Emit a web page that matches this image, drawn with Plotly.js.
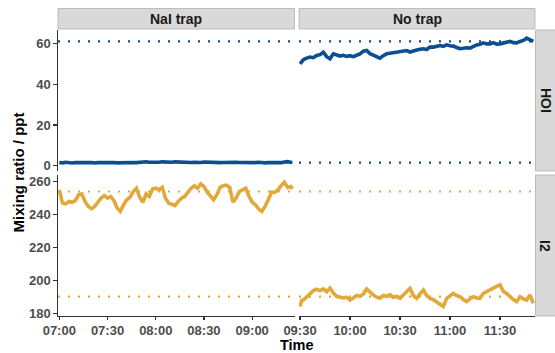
<!DOCTYPE html>
<html>
<head>
<meta charset="utf-8">
<script src="https://cdn.plot.ly/plotly-3.0.1.min.js"></script>
<style>html,body{margin:0;padding:0;background:#fff;}#chart{width:555px;height:353px;}</style>
</head>
<body>
<div id="chart"></div>
<script>
// ---- Data ----
var panelsCol = ["NaI trap", "No trap"];
var panelsRow = ["HOI", "I2"];

var timeNaI = ["07:00","07:02","07:04","07:06","07:08","07:10","07:12","07:14","07:16","07:18","07:20","07:22","07:24","07:26","07:28","07:30","07:32","07:34","07:36","07:38","07:40","07:42","07:44","07:46","07:48","07:50","07:52","07:54","07:56","07:58","08:00","08:02","08:04","08:06","08:08","08:10","08:12","08:14","08:16","08:18","08:20","08:22","08:24","08:26","08:28","08:30","08:32","08:34","08:36","08:38","08:40","08:42","08:44","08:46","08:48","08:50","08:52","08:54","08:56","08:58","09:00","09:02","09:04","09:06","09:08","09:10","09:12","09:14","09:16","09:18","09:20","09:22","09:24","09:25"];

var hoiNaI = [1.6,1.4,1.7,1.5,1.3,1.6,1.5,1.4,1.7,1.5,1.6,1.3,1.5,1.6,1.4,1.7,1.5,1.6,1.4,1.5,1.7,1.6,1.8,1.6,1.5,1.7,1.6,1.9,1.7,1.6,1.8,1.7,1.9,1.8,1.6,1.7,1.9,1.8,1.6,1.7,1.8,1.6,1.7,1.5,1.6,1.8,1.7,1.5,1.6,1.7,1.5,1.6,1.7,1.6,1.5,1.7,1.6,1.5,1.6,1.4,1.6,1.5,1.7,1.5,1.4,1.6,1.5,1.7,1.6,1.5,1.8,2.0,1.7,1.6];

var i2NaI = [255,247,246.5,248,247.5,248.5,252,252.5,248,245,243.5,245,247.5,250,251.5,250,251,248.5,244,242,246,249,250.5,254,256,250.5,247.5,252.5,251,255.5,256,255,256.5,250,247,246,245.5,248,250,251,254,256,257.5,256,258.6,257,253.6,251,249,252,256.5,257.5,257.8,256.5,247.5,250,254,255,256,251,247.5,246,243.5,242,245,249,253.5,253.6,255,257.6,259.6,256.5,257,255.6];

var timeNo = ["09:30","09:31","09:32","09:34","09:36","09:38","09:40","09:42","09:44","09:46","09:48","09:50","09:52","09:54","09:56","09:58","10:00","10:02","10:04","10:06","10:08","10:10","10:12","10:14","10:16","10:18","10:20","10:22","10:24","10:26","10:28","10:30","10:32","10:34","10:36","10:38","10:40","10:42","10:44","10:46","10:48","10:50","10:52","10:54","10:56","10:58","11:00","11:02","11:04","11:06","11:08","11:10","11:12","11:14","11:16","11:18","11:20","11:22","11:24","11:26","11:28","11:30","11:32","11:34","11:36","11:38","11:40","11:42","11:44","11:46","11:48","11:50"];

var hoiNo = [50,51.2,52,52.8,53.3,53,54.1,54.5,55.7,53.5,52.5,54.9,54.3,53.8,54.2,53.6,54,53.5,54.2,54.9,56.2,56.6,55,54.4,53.8,52.8,54,54.9,55.2,55.4,55.6,56,56.1,56.5,55.8,56.1,56.8,57.2,57.4,57,58.2,58.2,58.5,59,58.6,59.3,58.9,58.7,58,57.4,57.6,57.9,57.7,58.5,59.3,59.6,60.3,59.8,59.8,60.4,59.7,59.8,60.3,60.6,61,60.4,60.3,61,61.5,62.6,61.8,61];

var i2No = [184.3,188,188.3,190.5,192,194,194.8,194,195,193.3,195.5,192.5,190.5,190,189.5,190,188.3,189.5,191,190.5,192,195,193,191.3,190,189.3,191,190.5,191.5,190,190.5,189.3,191.3,193,195.4,191,189.3,192,194.3,191,189.3,188.5,187.3,185.5,184.3,189.3,191,192.3,191,190.3,188.5,187.3,189,190.3,189.5,189.3,192.3,193.5,194.3,195.4,196.5,197.4,193.5,192.3,190.3,188.5,187.3,190.3,189,188.3,191.3,186.3];

// dotted reference levels per row
var hoiRefs = {"NaI trap": [61], "No trap": [61, 1.5]};
var i2Refs = {"NaI trap": [254, 190.3], "No trap": [254, 190.3]};

var tickTimesNaI = ["07:00","07:30","08:00","08:30","09:00"];
var tickTimesNo = ["09:30","10:00","10:30","11:00","11:30"];
var yTicksHOI = [0, 20, 40, 60];
var yTicksI2 = [180, 200, 220, 240, 260];

// ---- Helpers ----
var day = "2024-01-01 ";
function d(t) { return day + t; }
var W = 555, H = 353;
function px(x) { return x / W; }
function py(y) { return 1 - y / H; }

var BLUE = "#0b4f91", GOLD = "#e2a93a";

var col1 = [px(58), px(294.5)], col2 = [px(299), px(535)];
var row1 = [py(171), py(30)], row2 = [py(316), py(175)];

var LW = 3.6;
var traces = [
  {x: timeNaI.map(d), y: hoiNaI, xaxis: "x", yaxis: "y", type: "scatter", mode: "lines", line: {color: BLUE, width: LW}, hoverinfo: "skip"},
  {x: timeNo.map(d), y: hoiNo, xaxis: "x2", yaxis: "y2", type: "scatter", mode: "lines", line: {color: BLUE, width: LW}, hoverinfo: "skip"},
  {x: timeNaI.map(d), y: i2NaI, xaxis: "x3", yaxis: "y3", type: "scatter", mode: "lines", line: {color: GOLD, width: LW}, hoverinfo: "skip"},
  {x: timeNo.map(d), y: i2No, xaxis: "x4", yaxis: "y4", type: "scatter", mode: "lines", line: {color: GOLD, width: LW}, hoverinfo: "skip"}
];

var shapes = [];
function hline(xr, yr, v, c) {
  shapes.push({type: "line", xref: xr + " domain", yref: yr, x0: 0, x1: 1, y0: v, y1: v,
    line: {color: c, width: 2.2, dash: "2px,8px"}, layer: "below"});
}
hoiRefs["NaI trap"].forEach(function(v){ hline("x", "y", v, BLUE); });
hoiRefs["No trap"].forEach(function(v){ hline("x2", "y2", v, BLUE); });
i2Refs["NaI trap"].forEach(function(v){ hline("x3", "y3", v, GOLD); });
i2Refs["No trap"].forEach(function(v){ hline("x4", "y4", v, GOLD); });

var STRIP = "#d9d9d9", STRIPLINE = "#b0b0b0";
function rect(x0, x1, y0, y1) {
  shapes.push({type: "rect", xref: "paper", yref: "paper", x0: px(x0), x1: px(x1), y0: py(y1), y1: py(y0),
    fillcolor: STRIP, line: {color: STRIPLINE, width: 0.8}, layer: "above"});
}
rect(58, 294.5, 8.5, 29);
rect(299, 535, 8.5, 29);
rect(535.5, 556, 30, 171);
rect(535.5, 556, 175, 316);

var stripFont = {family: "Liberation Sans, Arial, sans-serif", size: 14, color: "#1a1a1a"};
var titleFont = {family: "Liberation Sans, Arial, sans-serif", size: 15, color: "#000"};
var annotations = [
  {text: "<b>" + panelsCol[0] + "</b>", xref: "paper", yref: "paper", x: px(176.25), y: py(18.8), showarrow: false, font: stripFont, xanchor: "center", yanchor: "middle"},
  {text: "<b>" + panelsCol[1] + "</b>", xref: "paper", yref: "paper", x: px(417), y: py(18.8), showarrow: false, font: stripFont, xanchor: "center", yanchor: "middle"},
  {text: "<b>" + panelsRow[0] + "</b>", xref: "paper", yref: "paper", x: px(545.5), y: py(100.5), showarrow: false, font: stripFont, textangle: 90, xanchor: "center", yanchor: "middle"},
  {text: "<b>" + panelsRow[1] + "</b>", xref: "paper", yref: "paper", x: px(545.5), y: py(245.5), showarrow: false, font: stripFont, textangle: 90, xanchor: "center", yanchor: "middle"},
  {text: "<b>Time</b>", xref: "paper", yref: "paper", x: px(296.5), y: py(344.8), showarrow: false, font: {family: titleFont.family, size: 14.5, color: "#000"}, xanchor: "center", yanchor: "middle", borderpad: 0},
  {text: "<b>Mixing ratio / ppt</b>", xref: "paper", yref: "paper", x: px(17.5), y: py(173), showarrow: false, font: titleFont, textangle: -90, xanchor: "center", yanchor: "middle"}
];

var tickFont = {family: "Liberation Sans, Arial, sans-serif", size: 13, color: "#4d4d4d"};
var AX = "#333333";
function hiddenX(dom, anchor, range) {
  return {domain: dom, anchor: anchor, type: "date", range: range, showline: false, showgrid: false, zeroline: false, showticklabels: false, ticks: "", fixedrange: true};
}
function shownX(dom, anchor, range, tv) {
  return {domain: dom, anchor: anchor, type: "date", range: range, showline: true, linecolor: AX, linewidth: 1.1,
    showgrid: false, zeroline: false, ticks: "outside", ticklen: 3, tickcolor: AX, tickwidth: 1.1,
    ticklabelstandoff: -1,
    tickmode: "array", tickvals: tv.map(d), ticktext: tv.map(function(t){ return "<b>" + t + "</b>"; }),
    tickfont: tickFont, fixedrange: true};
}
function shownY(dom, anchor, range, tv) {
  return {domain: dom, anchor: anchor, range: range, showline: true, linecolor: AX, linewidth: 1.1,
    showgrid: false, zeroline: false, ticks: "outside", ticklen: 3.5, tickcolor: AX, tickwidth: 1.1,
    tickmode: "array", tickvals: tv, ticktext: tv.map(function(t){ return "<b>" + t + "</b>"; }),
    tickfont: tickFont, fixedrange: true};
}
function hiddenY(dom, anchor, range) {
  return {domain: dom, anchor: anchor, range: range, showline: false, showgrid: false, zeroline: false, showticklabels: false, ticks: "", fixedrange: true};
}

var r1x = [d("06:59:12"), d("09:26:18")];
var r2x = [d("09:29:24"), d("11:51:00")];
var rHOI = [-2.6, 66.6];
var rI2 = [178.6, 264];

var layout = {
  width: W, height: H,
  margin: {l: 0, r: 0, t: 0, b: 0, pad: 0},
  paper_bgcolor: "#ffffff", plot_bgcolor: "#ffffff",
  showlegend: false,
  xaxis: hiddenX(col1, "y", r1x),
  xaxis2: hiddenX(col2, "y2", r2x),
  xaxis3: shownX(col1, "y3", r1x, tickTimesNaI),
  xaxis4: shownX(col2, "y4", r2x, tickTimesNo),
  yaxis: shownY(row1, "x", rHOI, yTicksHOI),
  yaxis2: hiddenY(row1, "x2", rHOI),
  yaxis3: shownY(row2, "x3", rI2, yTicksI2),
  yaxis4: hiddenY(row2, "x4", rI2),
  shapes: shapes,
  annotations: annotations
};

Plotly.newPlot("chart", traces, layout, {displayModeBar: false, staticPlot: true});
</script>
</body>
</html>
